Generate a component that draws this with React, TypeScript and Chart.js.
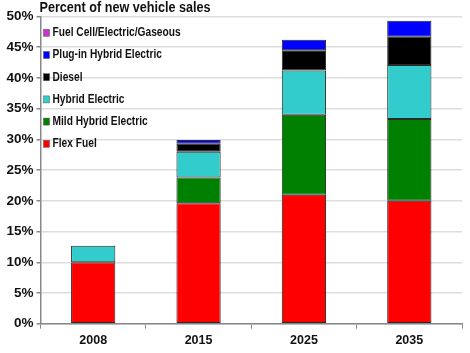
import React, { useEffect, useRef } from "react";
import { Chart, registerables } from "chart.js";
Chart.register(...registerables);

const categories = ["2008", "2015", "2025", "2035"];
const flexFuel = [10, 19.6, 21, 20];
const mildHybrid = [null, 4.2, 13, 13.3];
const hybridElectric = [2.7, 4.2, 7.2, 8.8];
const diesel = [null, 1.3, 3.3, 4.6];
const plugInHybrid = [null, 0.6, 1.7, 2.6];
const fuelCell = [null, null, null, null];
const yMax = 50;
const yStep = 5;
const titleText = "Percent of new vehicle sales";

const FONT = "'Liberation Sans', Arial, sans-serif";

const squishText = (ctx: any, text: string, x: number, y: number, sx: number) => {
  ctx.save();
  ctx.translate(x, y);
  ctx.scale(sx, 1);
  ctx.fillText(text, 0, 0);
  ctx.restore();
};

const overlayPlugin = {
  id: "overlay",
  afterDraw(chart: any) {
    const ctx = chart.ctx;
    const area = chart.chartArea;
    ctx.save();
    ctx.fillStyle = "#111";
    ctx.font = `bold 14.5px ${FONT}`;
    ctx.textBaseline = "middle";
    ctx.textAlign = "left";
    squishText(ctx, titleText, area.left - 1, 8, 0.87);
    const ds = chart.data.datasets.slice().reverse();
    ctx.font = `bold 12px ${FONT}`;
    ds.forEach((d: any, i: number) => {
      const y = area.top + 16.3 + i * 22.2;
      ctx.fillStyle = d.backgroundColor;
      ctx.fillRect(area.left + 3, y - 3.5, 6, 7);
      ctx.strokeStyle = "#555";
      ctx.lineWidth = 0.5;
      ctx.strokeRect(area.left + 3, y - 3.5, 6, 7);
      ctx.fillStyle = "#111";
      squishText(ctx, d.label, area.left + 12, y, 0.85);
    });
    ctx.restore();
  },
};

export default function App() {
  const ref = useRef<HTMLCanvasElement>(null);
  useEffect(() => {
    const mk = (label: string, data: (number | null)[], color: string) => ({
      label,
      data,
      backgroundColor: color,
      borderColor: "#2a2a2a",
      borderWidth: 1,
      borderSkipped: false,
      categoryPercentage: 1,
      barPercentage: 0.42,
    });
    const chart = new Chart(ref.current!, {
      type: "bar",
      data: {
        labels: categories,
        datasets: [
          mk("Flex Fuel", flexFuel, "#ff0000"),
          mk("Mild Hybrid Electric", mildHybrid, "#008000"),
          mk("Hybrid Electric", hybridElectric, "#33cccc"),
          mk("Diesel", diesel, "#000000"),
          mk("Plug-in Hybrid Electric", plugInHybrid, "#0000ff"),
          mk("Fuel Cell/Electric/Gaseous", fuelCell, "#cc33cc"),
        ],
      },
      options: {
        animation: false,
        responsive: false,
        layout: { padding: { top: 16.5, right: 8, left: 0, bottom: 0 } },
        plugins: { legend: { display: false }, tooltip: { enabled: false }, title: { display: false } },
        scales: {
          x: {
            stacked: true,
            afterFit: (s: any) => { s.height = 29.3; },
            grid: { drawOnChartArea: false, drawTicks: true, tickLength: 5, tickColor: "#888", offset: true },
            border: { color: "#888", width: 1.5 },
            ticks: { color: "#111", font: { family: FONT, weight: "bold", size: 12.5 }, padding: 4 },
          },
          y: {
            stacked: true,
            min: 0,
            max: yMax,
            afterFit: (s: any) => { s.width = 40.5; },
            grid: { color: "#dddddd", lineWidth: 1.5, tickColor: "#888", tickLength: 4 },
            border: { color: "#888", width: 1.5 },
            ticks: {
              stepSize: yStep,
              color: "#111",
              font: { family: FONT, weight: "bold", size: 13.5 },
              padding: 3,
              callback: (v: any) => v + "%",
            },
          },
        },
      },
      plugins: [overlayPlugin],
    });
    return () => chart.destroy();
  }, []);
  return (
    <div style={{ position: "fixed", left: 0, top: 0, width: 470, height: 353, background: "#fff" }}>
      <canvas ref={ref} width={470} height={353} />
    </div>
  );
}
